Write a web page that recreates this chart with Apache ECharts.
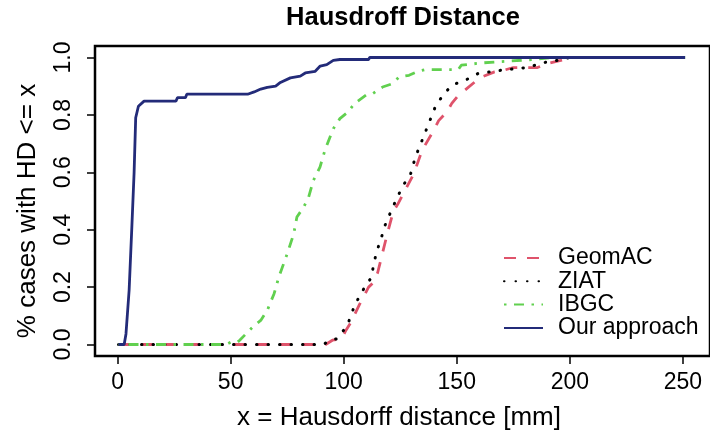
<!DOCTYPE html>
<html>
<head>
<meta charset="utf-8">
<script src="https://cdn.jsdelivr.net/npm/echarts@6/dist/echarts.min.js"></script>
<style>
  html, body { margin: 0; padding: 0; background: #ffffff; }
  #chart { width: 710px; height: 436px; }
</style>
</head>
<body>
<div id="chart"></div>
<script>
// ECDF points: x = Hausdorff distance (mm), p = fraction of cases
const geomacX = [0.4, 92, 95, 99, 101, 103, 107, 111, 113, 115, 117.2, 119.4, 122, 124, 126, 128, 131, 134.7, 139, 142, 145.6, 147.8, 150.7, 153.6, 158, 161, 166.7, 171, 175, 185.7, 190, 196, 201, 251]
const geomacP = [0, 0, 0.015, 0.02, 0.05, 0.075, 0.14, 0.2, 0.215, 0.25, 0.32, 0.39, 0.465, 0.49, 0.52, 0.55, 0.595, 0.677, 0.735, 0.78, 0.81, 0.84, 0.868, 0.886, 0.915, 0.932, 0.95, 0.956, 0.965, 0.965, 0.979, 0.99, 1, 1]

const ziatX = [0.4, 91, 94, 97, 100, 102, 105, 110, 112, 114.3, 117.2, 118, 121.6, 125.9, 129.6, 131.7, 134.7, 137.6, 140.5, 143.4, 147.8, 153.6, 159.4, 165, 170, 181, 190, 195, 200, 251]
const ziatP = [0, 0, 0.015, 0.02, 0.05, 0.075, 0.14, 0.21, 0.23, 0.316, 0.386, 0.41, 0.477, 0.549, 0.595, 0.653, 0.712, 0.77, 0.828, 0.863, 0.904, 0.92, 0.944, 0.95, 0.956, 0.965, 0.985, 0.99, 1, 1]

const ibgcX = [0.4, 48, 50, 53, 54, 56, 60.4, 63.3, 66.2, 69.2, 71.3, 75, 77.9, 79.3, 82.3, 84.5, 86.6, 89.5, 91.7, 95.4, 98.3, 101.9, 104.8, 109.9, 112.8, 117.2, 121.6, 124.5, 128.9, 133.2, 136.1, 150.7, 152, 160.9, 174, 184, 193, 251]
const ibgcP = [0, 0, 0.008, 0.008, 0.015, 0.031, 0.066, 0.084, 0.119, 0.177, 0.235, 0.316, 0.386, 0.444, 0.479, 0.514, 0.572, 0.618, 0.677, 0.752, 0.787, 0.81, 0.84, 0.869, 0.874, 0.897, 0.909, 0.932, 0.938, 0.953, 0.958, 0.958, 0.973, 0.981, 0.988, 0.993, 1, 1]

const oursX = [0.4, 2.9, 3.7, 5.1, 6.3, 7.3, 8, 9.2, 11.7, 25.8, 26.5, 30, 30.6, 57.5, 60.4, 63.3, 66.2, 69.9, 72, 76.4, 80.8, 83, 87.4, 89.6, 92.5, 95.4, 98.3, 111, 111.5, 251]
const oursP = [0, 0, 0.037, 0.19, 0.41, 0.6, 0.79, 0.83, 0.848, 0.848, 0.86, 0.86, 0.872, 0.872, 0.88, 0.89, 0.896, 0.9, 0.913, 0.929, 0.935, 0.946, 0.952, 0.97, 0.975, 0.99, 0.993, 0.993, 1, 1]

const xTicks = [0, 50, 100, 150, 200, 250]
const yTicks = [0, 0.2, 0.4, 0.6, 0.8, 1.0]

const zip = (xs, ys) => xs.map((x, i) => [x, ys[i]])

const font = '"Liberation Sans", Arial, Helvetica, sans-serif'

const chart = echarts.init(document.getElementById('chart'))

chart.setOption({
  backgroundColor: '#ffffff',
  animation: false,
  title: {
    text: 'Hausdroff Distance',
    left: 403,
    top: 5,
    padding: 0,
    textAlign: 'center',
    textStyle: { fontFamily: font, fontSize: 25.5, fontWeight: 'bold', color: '#000' },
  },
  legend: {
    orient: 'vertical',
    left: 503,
    top: 246.5,
    padding: 0,
    itemWidth: 39,
    itemHeight: 14,
    itemGap: 0.3,
    itemStyle: { opacity: 0 },
    textStyle: { fontFamily: font, fontSize: 23, lineHeight: 23, color: '#000', padding: [0, 0, 0, 10] },
    data: ['GeomAC', 'ZIAT', 'IBGC', 'Our approach'],
  },
  grid: {
    left: 95,
    top: 46,
    width: 623,
    height: 310,
    show: true,
    borderColor: '#000',
    borderWidth: 2.5,
    backgroundColor: 'transparent',
  },
  xAxis: {
    type: 'value',
    min: -10,
    max: 262,
    name: 'x = Hausdorff distance [mm]',
    nameLocation: 'middle',
    nameGap: 49,
    nameTextStyle: { fontFamily: font, fontSize: 26, color: '#000', padding: [0, 7, 0, 0] },
    axisLine: { show: false, onZero: false },
    splitLine: { show: false },
    axisTick: { show: true, length: 8, lineStyle: { color: '#000', width: 1.5 }, customValues: xTicks },
    axisLabel: { fontFamily: font, fontSize: 23, color: '#000', margin: 15, customValues: xTicks },
  },
  yAxis: {
    type: 'value',
    min: -0.04,
    max: 1.04,
    name: '% cases with HD <= x',
    nameLocation: 'middle',
    nameGap: 54,
    nameTextStyle: { fontFamily: font, fontSize: 26, color: '#000', padding: [0, 20, 0, 0] },
    axisLine: { show: false, onZero: false },
    splitLine: { show: false },
    axisTick: { show: true, length: 8, lineStyle: { color: '#000', width: 1.5 }, customValues: yTicks },
    axisLabel: {
      fontFamily: font,
      fontSize: 23,
      color: '#000',
      rotate: 90,
      margin: 20,
      customValues: yTicks,
      formatter: (v) => v.toFixed(1),
    },
  },
  series: [
    {
      name: 'GeomAC',
      type: 'line',
      symbol: 'none',
      data: zip(geomacX, geomacP),
      lineStyle: { color: '#DF536B', width: 2.8, type: [12, 11] },
      itemStyle: { color: '#DF536B' },
    },
    {
      name: 'ZIAT',
      type: 'line',
      symbol: 'none',
      data: zip(ziatX, ziatP),
      lineStyle: { color: '#000000', width: 3, type: [0.5, 11], cap: 'round' },
      itemStyle: { color: '#000000' },
    },
    {
      name: 'IBGC',
      type: 'line',
      symbol: 'none',
      data: zip(ibgcX, ibgcP),
      lineStyle: { color: '#61D04F', width: 2.8, type: [2.5, 7.5, 10, 7.5] },
      itemStyle: { color: '#61D04F' },
    },
    {
      name: 'Our approach',
      type: 'line',
      symbol: 'none',
      data: zip(oursX, oursP),
      lineStyle: { color: '#232B79', width: 2.8 },
      itemStyle: { color: '#232B79' },
    },
  ],
})
</script>
</body>
</html>
